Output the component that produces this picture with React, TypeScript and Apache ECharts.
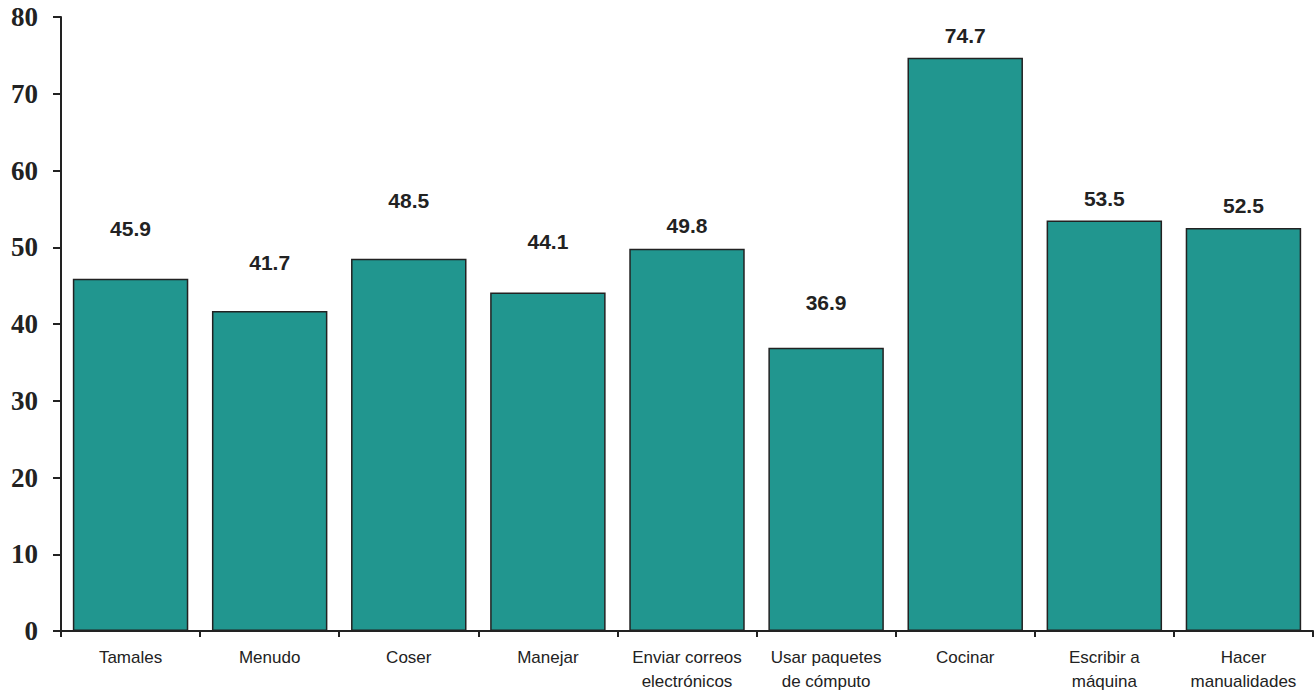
import React, { useEffect, useRef } from "react";
import * as echarts from "echarts";

const categories = [
  "Tamales",
  "Menudo",
  "Coser",
  "Manejar",
  "Enviar correos\nelectrónicos",
  "Usar paquetes\nde cómputo",
  "Cocinar",
  "Escribir a\nmáquina",
  "Hacer\nmanualidades",
];
const values = [45.9, 41.7, 48.5, 44.1, 49.8, 36.9, 74.7, 53.5, 52.5];
const labelGaps = [40, 38, 48, 41, 13, 35, 12, 11, 12];

export default function App() {
  const ref = useRef<HTMLDivElement>(null);
  useEffect(() => {
    if (!ref.current) return;
    const chart = echarts.init(ref.current, null, { renderer: "svg" });
    chart.setOption({
      animation: false,
      backgroundColor: "#ffffff",
      grid: {
        left: 61,
        right: 3,
        top: 17,
        bottom: 60,
        containLabel: false,
        outerBoundsMode: "none",
      },
      xAxis: {
        type: "category",
        data: categories,
        axisLine: { show: true, lineStyle: { color: "#222", width: 2 } },
        axisTick: { show: true, length: 6, lineStyle: { color: "#222", width: 2 } },
        axisLabel: {
          color: "#222",
          fontFamily: "Liberation Sans, Arial, sans-serif",
          fontSize: 17,
          lineHeight: 24,
          margin: 14,
          interval: 0,
        },
      },
      yAxis: {
        type: "value",
        min: 0,
        max: 80,
        interval: 10,
        splitLine: { show: false },
        axisLine: { show: true, lineStyle: { color: "#222", width: 2 } },
        axisTick: { show: true, length: 8, lineStyle: { color: "#222", width: 2 } },
        axisLabel: {
          color: "#222",
          fontFamily: "Liberation Serif, Times New Roman, serif",
          fontWeight: "bold",
          fontSize: 27,
          margin: 23,
        },
      },
      series: [
        {
          type: "bar",
          barCategoryGap: "17%",
          data: values.map((v, i) => ({
            value: v,
            label: { distance: labelGaps[i] },
          })),
          itemStyle: { color: "#21968F", borderColor: "#222", borderWidth: 1.5 },
          label: {
            show: true,
            position: "top",
            color: "#222",
            fontFamily: "Liberation Sans, Arial, sans-serif",
            fontWeight: "bold",
            fontSize: 21,
            formatter: (p: any) => p.value.toFixed(1),
          },
        },
      ],
    });
    return () => chart.dispose();
  }, []);
  return (
    <div
      ref={ref}
      style={{ position: "fixed", left: 0, top: 0, width: 1316, height: 691 }}
    />
  );
}
